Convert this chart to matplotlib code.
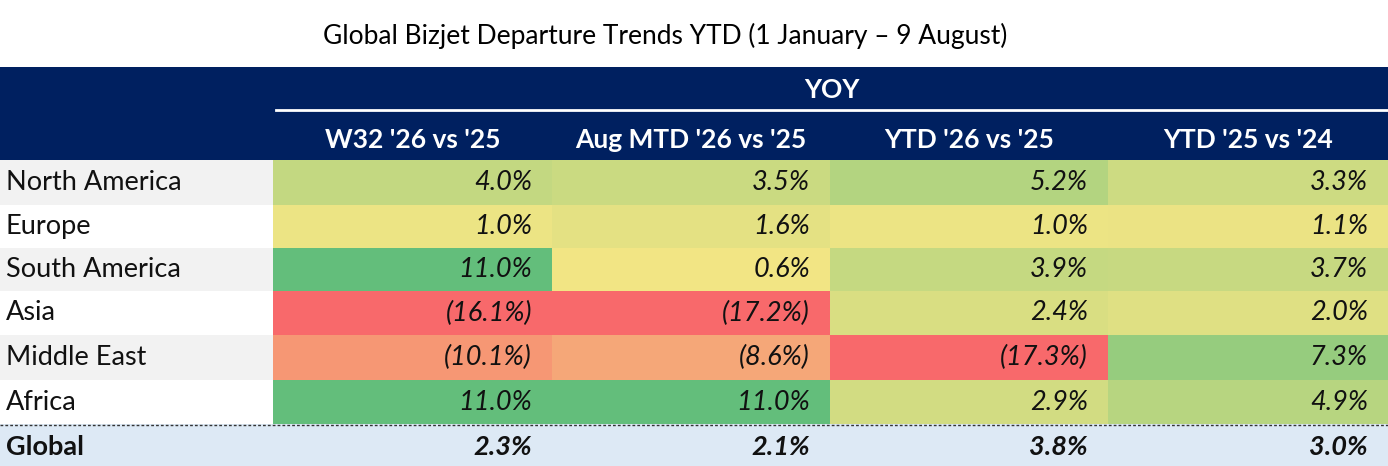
import matplotlib.pyplot as plt
import numpy as np
from matplotlib.colors import to_rgb

title = "Global Bizjet Departure Trends YTD (1 January \u2013 9 August)"
columns = ["W32 '26 vs '25", "Aug MTD '26 vs '25", "YTD '26 vs '25", "YTD '25 vs '24"]
regions = ["North America", "Europe", "South America", "Asia", "Middle East", "Africa"]
values = np.array([
    [4.0, 3.5, 5.2, 3.3],
    [1.0, 1.6, 1.0, 1.1],
    [11.0, 0.6, 3.9, 3.7],
    [-16.1, -17.2, 2.4, 2.0],
    [-10.1, -8.6, -17.3, 7.3],
    [11.0, 11.0, 2.9, 4.9],
])
global_vals = [2.3, 2.1, 3.8, 3.0]

NAVY = "#002060"
RED, YEL, GRN = to_rgb("#F8696B"), to_rgb("#F2E584"), to_rgb("#63BE7B")
pos_min = values[values > 0].min()
pos_max = values.max()


def scale_color(v, col_min):
    if v <= 0:
        t = v / col_min
        a, b = YEL, RED
    else:
        t = (v - pos_min) / (pos_max - pos_min)
        a, b = YEL, GRN
    t = min(max(t, 0), 1)
    return tuple(a[i] + (b[i] - a[i]) * t for i in range(3))


def fmt(v):
    return f"({abs(v):.1f}%)" if v < 0 else f"{v:.1f}%"


plt.rcParams["font.family"] = ["Lato", "DejaVu Sans"]
fig = plt.figure(figsize=(13.88, 4.66), dpi=100)
ax = fig.add_axes([0, 0, 1, 1])
ax.set_xlim(0, 1388)
ax.set_ylim(466, 0)
ax.axis("off")

ax.text(665, 36, title, ha="center", va="center", fontsize=19, color="black")

# header
ax.add_patch(plt.Rectangle((0, 67), 1388, 93, color=NAVY, lw=0))
ax.text(832, 90, "YOY", ha="center", va="center", fontsize=19, color="white", weight="bold")
ax.plot([276, 1388], [110, 110], color="white", lw=2)
col_x = [273, 552, 830, 1108, 1388]
for j, c in enumerate(columns):
    ax.text((col_x[j] + col_x[j + 1]) / 2, 140, c, ha="center", va="center",
            fontsize=19, color="white", weight="bold")

row_y = [160, 205, 248, 291, 335, 380, 424]
col_mins = values.min(axis=0)
for i, r in enumerate(regions):
    y0, y1 = row_y[i], row_y[i + 1]
    ym = (y0 + y1) / 2
    bg = "#f2f2f2" if i % 2 == 0 else "white"
    ax.add_patch(plt.Rectangle((0, y0), 273, y1 - y0, color=bg, lw=0))
    ax.text(6, ym, r, ha="left", va="center", fontsize=19.5, color="#111111")
    for j in range(len(columns)):
        ax.add_patch(plt.Rectangle((col_x[j], y0), col_x[j + 1] - col_x[j], y1 - y0,
                                   color=scale_color(values[i, j], col_mins[j]), lw=0))
        ax.text(col_x[j + 1] - 20, ym, fmt(values[i, j]), ha="right", va="center",
                fontsize=19.5, style="italic", color="#111111")

# global row
ax.add_patch(plt.Rectangle((0, 424), 1388, 42, color="#dde9f5", lw=0))
ax.plot([0, 1388], [425, 425], color="#333333", lw=1, ls=(0, (2, 1.5)))
ax.text(6, 447, "Global", ha="left", va="center", fontsize=19.5, weight="bold", color="#111111")
for j, v in enumerate(global_vals):
    ax.text(col_x[j + 1] - 20, 447, fmt(v), ha="right", va="center",
            fontsize=19.5, weight="bold", style="italic", color="#111111")

fig.savefig("out.png", dpi=100)
